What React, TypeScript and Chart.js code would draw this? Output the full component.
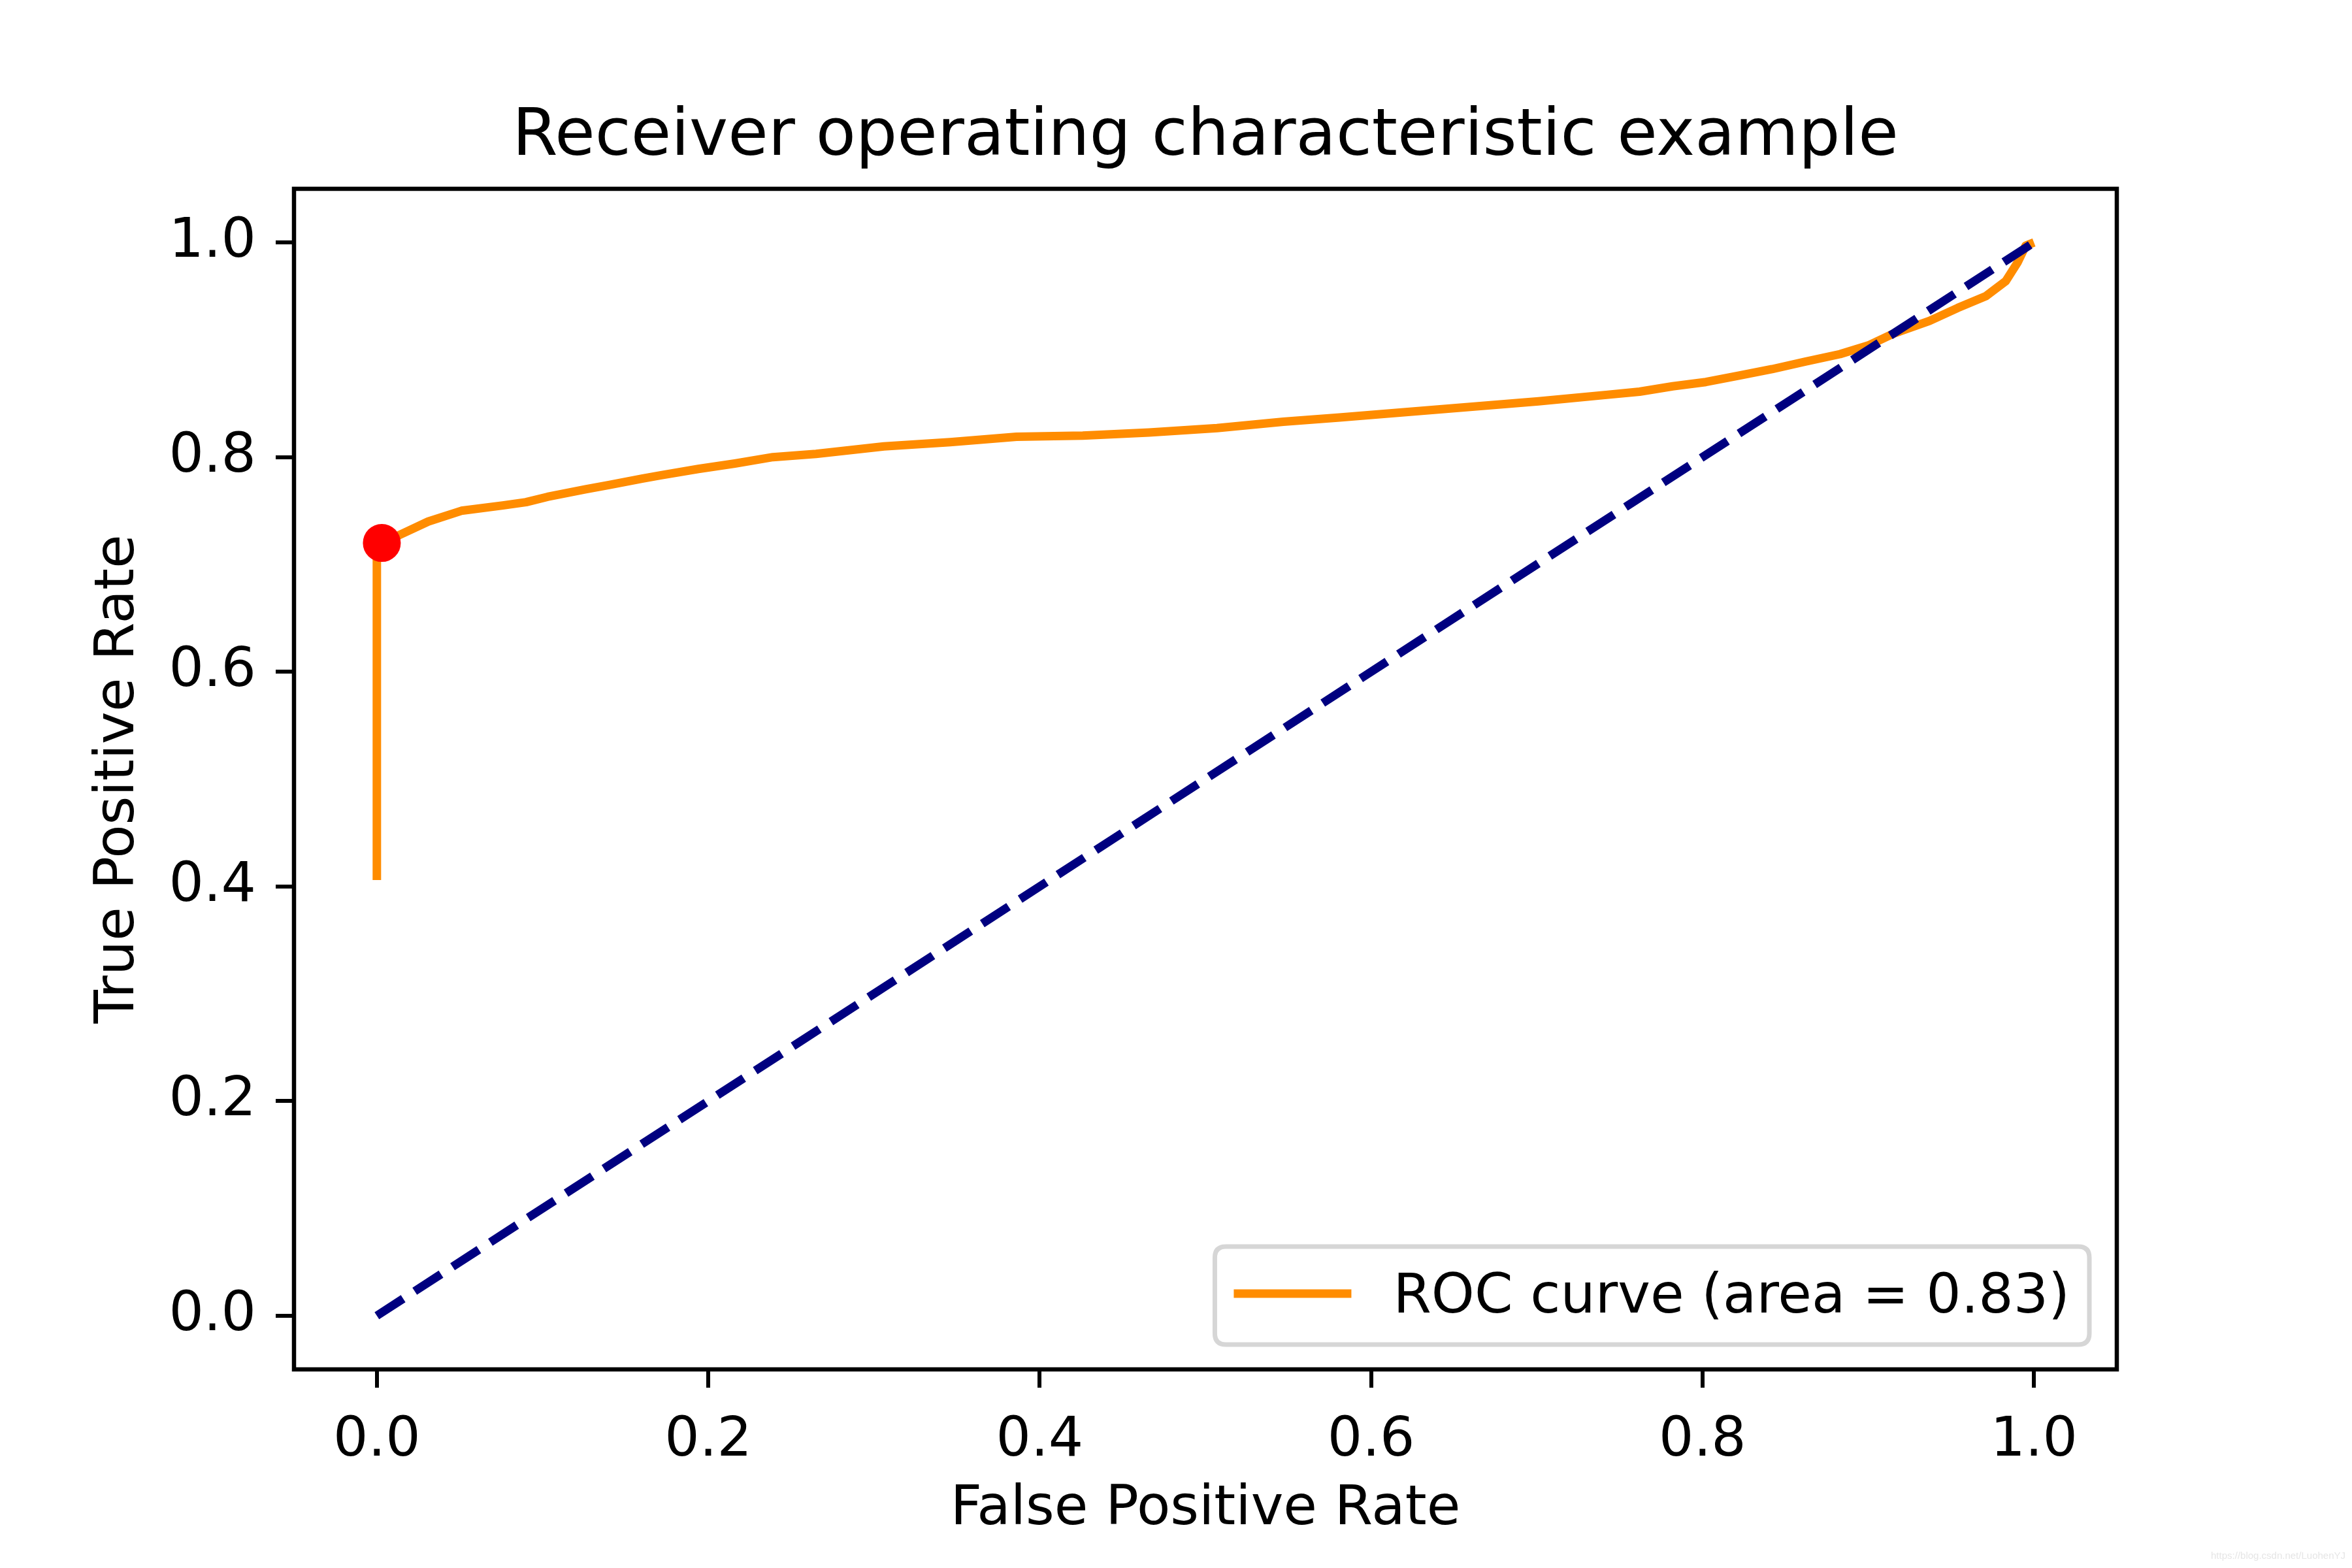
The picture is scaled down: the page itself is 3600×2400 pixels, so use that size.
import React, { useEffect, useRef } from "react";
import { Chart, registerables } from "chart.js";

Chart.register(...registerables);

// ---- data ----
const rocFpr = [
  0, 0, 0.003, 0.013, 0.031, 0.051, 0.076, 0.09, 0.103, 0.126, 0.14, 0.16, 0.171, 0.194, 0.216,
  0.239, 0.265, 0.306, 0.346, 0.386, 0.426, 0.466, 0.507, 0.547, 0.581, 0.621, 0.661, 0.701, 0.742,
  0.762, 0.782, 0.802, 0.822, 0.842, 0.862, 0.883, 0.9, 0.915, 0.937, 0.954, 0.971, 0.983, 0.99,
  0.995, 1.0,
];
const rocTpr = [
  0.406, 0.72, 0.72, 0.727, 0.74, 0.75, 0.755, 0.758, 0.763, 0.77, 0.774, 0.78, 0.783, 0.789, 0.794,
  0.8, 0.803, 0.81, 0.814, 0.819, 0.82, 0.823, 0.827, 0.833, 0.837, 0.842, 0.847, 0.852, 0.858,
  0.861, 0.866, 0.87, 0.876, 0.882, 0.889, 0.896, 0.904, 0.915, 0.927, 0.939, 0.95, 0.964, 0.981,
  0.997, 1.0,
];
const chanceFpr = [0, 1];
const chanceTpr = [0, 1];
const bestFpr = [0.003];
const bestTpr = [0.72];
const tickValues = [0, 0.2, 0.4, 0.6, 0.8, 1.0];
const rocLabel = "ROC curve (area = 0.83)";
const titleText = "Receiver operating characteristic example";
const xLabel = "False Positive Rate";
const yLabel = "True Positive Rate";
const watermark = "https://blog.csdn.net/LuohenYJ";

const FONT = "'DejaVu Sans', sans-serif";
const FS = 84;

const toPoints = (xs: number[], ys: number[]) => xs.map((x, i) => ({ x, y: ys[i] }));

const framePlugin = {
  id: "frameAndText",
  afterDatasetsDraw(chart: any) {
    const { ctx, chartArea: a } = chart;
    ctx.save();
    ctx.strokeStyle = "#000";
    ctx.lineWidth = 6.5;
    ctx.strokeRect(a.left, a.top, a.right - a.left, a.bottom - a.top);
    ctx.restore();
  },
  afterDraw(chart: any) {
    const { ctx, chartArea: a } = chart;
    ctx.save();
    // title
    ctx.fillStyle = "#000";
    ctx.font = `100px ${FONT}`;
    ctx.textAlign = "center";
    ctx.textBaseline = "alphabetic";
    ctx.fillText(titleText, (a.left + a.right) / 2, a.top - 52);

    // legend (lower right, inside axes)
    const ds = chart.data.datasets[2];
    ctx.font = `${FS}px ${FONT}`;
    const tw = ctx.measureText(ds.label).width;
    const right = a.right - 42;
    const bottom = a.bottom - 38;
    const boxW = 34 + 168 + 67 + tw + 34;
    const boxH = 150;
    const left = right - boxW;
    const top = bottom - boxH;
    const r = 17;
    ctx.beginPath();
    ctx.moveTo(left + r, top);
    ctx.lineTo(right - r, top);
    ctx.quadraticCurveTo(right, top, right, top + r);
    ctx.lineTo(right, bottom - r);
    ctx.quadraticCurveTo(right, bottom, right - r, bottom);
    ctx.lineTo(left + r, bottom);
    ctx.quadraticCurveTo(left, bottom, left, bottom - r);
    ctx.lineTo(left, top + r);
    ctx.quadraticCurveTo(left, top, left + r, top);
    ctx.closePath();
    ctx.fillStyle = "rgba(255,255,255,0.8)";
    ctx.fill();
    ctx.strokeStyle = "#d6d6d6";
    ctx.lineWidth = 7;
    ctx.stroke();
    ctx.beginPath();
    ctx.strokeStyle = ds.borderColor;
    ctx.lineWidth = ds.borderWidth;
    ctx.moveTo(left + 29, top + 72);
    ctx.lineTo(left + 209, top + 72);
    ctx.stroke();
    ctx.fillStyle = "#000";
    ctx.textAlign = "left";
    ctx.textBaseline = "alphabetic";
    ctx.fillText(ds.label, left + 273, top + 101);

    // faint watermark
    ctx.font = `15px 'Liberation Sans', sans-serif`;
    ctx.fillStyle = "#e6e6e6";
    ctx.textAlign = "right";
    ctx.fillText(watermark, chart.width - 10, chart.height - 14);
    ctx.restore();
  },
};

export default function App() {
  const ref = useRef<HTMLCanvasElement | null>(null);
  useEffect(() => {
    document.body.style.margin = "0";
    const canvas = ref.current;
    if (!canvas) return;
    const tickCb = (v: any) => Number(v).toFixed(1);
    const chart = new Chart(canvas, {
      type: "scatter",
      data: {
        datasets: [
          {
            label: "best",
            data: toPoints(bestFpr, bestTpr),
            showLine: false,
            pointRadius: 29,
            pointBackgroundColor: "#ff0000",
            pointBorderWidth: 0,
            order: 0,
          },
          {
            label: "chance",
            data: toPoints(chanceFpr, chanceTpr),
            showLine: true,
            borderColor: "#000080",
            borderWidth: 13,
            borderDash: [48, 21],
            pointRadius: 0,
            tension: 0,
            order: 1,
          },
          {
            label: rocLabel,
            data: toPoints(rocFpr, rocTpr),
            showLine: true,
            borderColor: "#ff8c00",
            borderWidth: 13,
            pointRadius: 0,
            tension: 0,
            borderJoinStyle: "round",
            order: 2,
          },
        ],
      },
      options: {
        animation: false,
        responsive: false,
        devicePixelRatio: 1,
        events: [],
        layout: { padding: { left: 0, top: 289, right: 360, bottom: 0 } },
        plugins: {
          legend: { display: false },
          title: { display: false },
          tooltip: { enabled: false },
        },
        scales: {
          x: {
            type: "linear",
            min: -0.05,
            max: 1.05,
            afterBuildTicks: (s: any) => {
              s.ticks = tickValues.map((v) => ({ value: v }));
            },
            afterFit: (s: any) => {
              s.height = 304;
            },
            ticks: {
              callback: tickCb,
              font: { family: FONT, size: FS },
              color: "#000",
              padding: 32,
              maxRotation: 0,
              autoSkip: false,
            },
            grid: { drawOnChartArea: false, drawTicks: true, tickLength: 28, color: "#000", lineWidth: 6 },
            border: { display: false },
            title: {
              display: true,
              text: xLabel,
              color: "#000",
              font: { family: FONT, size: FS },
              padding: { top: 0, bottom: 38 },
            },
          },
          y: {
            type: "linear",
            min: -0.05,
            max: 1.05,
            afterBuildTicks: (s: any) => {
              s.ticks = tickValues.map((v) => ({ value: v }));
            },
            afterFit: (s: any) => {
              s.width = 450;
            },
            ticks: {
              callback: tickCb,
              font: { family: FONT, size: FS },
              color: "#000",
              padding: 30,
              autoSkip: false,
            },
            grid: { drawOnChartArea: false, drawTicks: true, tickLength: 28, color: "#000", lineWidth: 6 },
            border: { display: false },
            title: {
              display: true,
              text: yLabel,
              color: "#000",
              font: { family: FONT, size: FS },
              padding: { top: 132, bottom: 0 },
            },
          },
        },
      },
      plugins: [framePlugin],
    } as any);
    return () => chart.destroy();
  }, []);
  return <canvas ref={ref} width={3600} height={2400} style={{ display: "block" }} />;
}
